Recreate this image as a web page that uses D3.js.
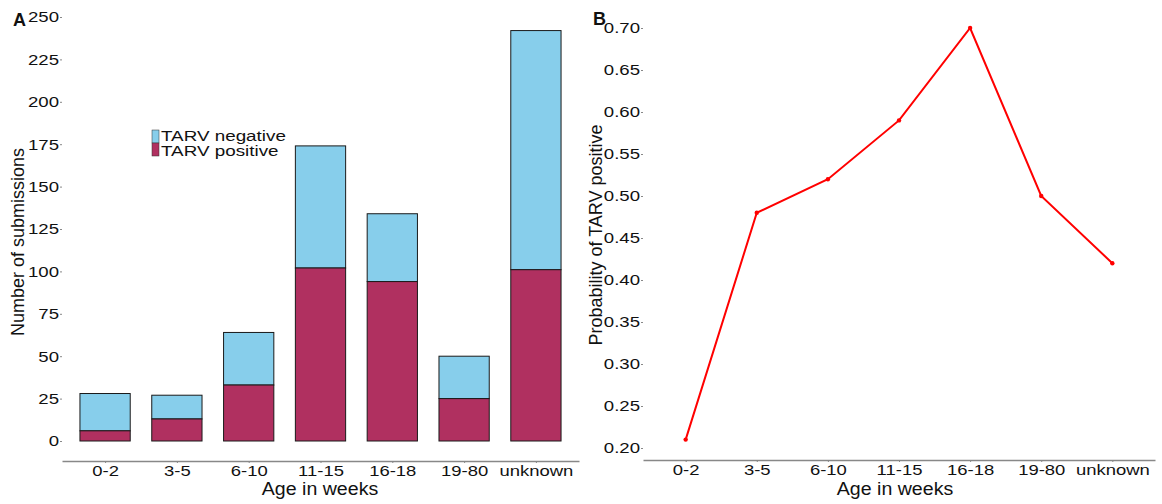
<!DOCTYPE html>
<html><head><meta charset="utf-8">
<script src="https://cdn.jsdelivr.net/npm/d3@7"></script>
<style>body{margin:0;background:#fff}svg{display:block}text{font-family:"Liberation Sans",Arial,sans-serif}</style>
</head><body>
<svg id="c" width="1162" height="504"></svg>
<script>
const categories = ["0-2","3-5","6-10","11-15","16-18","19-80","unknown"];
const totalSubmissions = [28,27,64,174,134,50,242];
const positiveSubmissions = [6,13,33,102,94,25,101];
const probabilityPositive = [0.21,0.48,0.52,0.59,0.70,0.50,0.42];
const countTicks = [0,25,50,75,100,125,150,175,200,225,250];
const probTicks = [0.20,0.25,0.30,0.35,0.40,0.45,0.50,0.55,0.60,0.65,0.70];
const seriesNames = ["TARV negative","TARV positive"];
const colors = {neg:"#87CEEB", pos:"#B03060"};

const svg = d3.select("#c");
const SX = 1.2;
// horizontally stretch a text around its own x anchor
function stretch(sel, s){
  sel.each(function(){
    const t = d3.select(this);
    const x = +t.attr("x") || 0;
    t.attr("transform", `translate(${x},0) scale(${s},1) translate(${-x},0)`);
  });
}

// ---------- Panel A ----------
const xA = d3.scalePoint().domain(categories).range([62,579]).padding(0.6);
const bw = xA.step()*0.7;
const yA = d3.scaleLinear().domain([0,250]).range([441,17]);

const gA = svg.append("g");
categories.forEach((c,i)=>{
  const x0 = xA(c)-bw/2;
  gA.append("rect").attr("x",x0).attr("y",yA(totalSubmissions[i]))
    .attr("width",bw).attr("height",yA(positiveSubmissions[i])-yA(totalSubmissions[i]))
    .attr("fill",colors.neg).attr("stroke","#1a1a1a").attr("stroke-width",1);
  gA.append("rect").attr("x",x0).attr("y",yA(positiveSubmissions[i]))
    .attr("width",bw).attr("height",yA(0)-yA(positiveSubmissions[i]))
    .attr("fill",colors.pos).attr("stroke","#1a1a1a").attr("stroke-width",1);
});

const yAxisA = gA.append("g").attr("transform","translate(62,0)")
  .call(d3.axisLeft(yA).tickValues(countTicks).tickSize(2).tickPadding(1));
yAxisA.select(".domain").remove();
yAxisA.selectAll("line").attr("stroke","#888");
yAxisA.selectAll("text").attr("font-size",15.5).attr("fill","#111").call(stretch,SX);

const xAxisA = gA.append("g").attr("transform","translate(0,461)")
  .call(d3.axisBottom(xA).tickSize(2).tickPadding(2).tickSizeOuter(0));
xAxisA.select(".domain").attr("stroke","#888").attr("stroke-width",1.5);
xAxisA.selectAll("line").attr("stroke","#888");
xAxisA.selectAll("text").attr("font-size",15).attr("fill","#111").call(stretch,1.23);

gA.append("text").attr("x",320).attr("y",495).attr("text-anchor","middle")
  .attr("font-size",17.5).attr("fill","#111").text("Age in weeks").call(stretch,1.12);
gA.append("text").attr("transform","translate(24,242) rotate(-90)").attr("text-anchor","middle")
  .attr("font-size",18).attr("fill","#111").text("Number of submissions");
gA.append("text").attr("x",13).attr("y",26).attr("font-family","Liberation Serif,serif")
  .attr("font-weight","bold").attr("font-size",18).attr("fill","#111").text("A");

// legend
const leg = gA.append("g");
[colors.neg, colors.pos].forEach((col,i)=>{
  leg.append("rect").attr("x",152).attr("y",130+i*13).attr("width",7).attr("height",13)
    .attr("fill",col).attr("stroke","#333").attr("stroke-width",0.5);
  leg.append("text").attr("x",161).attr("y",141.5+i*15).attr("font-size",14.5).attr("fill","#111")
    .text(seriesNames[i]).call(stretch,1.3);
});

// ---------- Panel B ----------
const xB = d3.scalePoint().domain(categories).range([643,1155]).padding(0.6);
const yB = d3.scaleLinear().domain([0.20,0.70]).range([448,28]);
const gB = svg.append("g");

const yAxisB = gB.append("g").attr("transform","translate(643,0)")
  .call(d3.axisLeft(yB).tickValues(probTicks).tickFormat(d3.format(".2f")).tickSize(2).tickPadding(1));
yAxisB.select(".domain").remove();
yAxisB.selectAll("line").attr("stroke","#888");
yAxisB.selectAll("text").attr("font-size",15.5).attr("fill","#111").call(stretch,SX);

const xAxisB = gB.append("g").attr("transform","translate(0,460)")
  .call(d3.axisBottom(xB).tickSize(2).tickPadding(2).tickSizeOuter(0));
xAxisB.select(".domain").attr("stroke","#888").attr("stroke-width",1.5);
xAxisB.selectAll("line").attr("stroke","#888");
xAxisB.selectAll("text").attr("font-size",15).attr("fill","#111").call(stretch,1.23);

const pts = categories.map((c,i)=>[xB(c), yB(probabilityPositive[i])]);
gB.append("path").attr("d",d3.line()(pts)).attr("fill","none")
  .attr("stroke","#FF0000").attr("stroke-width",2);
gB.selectAll("circle.p").data(pts).enter().append("circle")
  .attr("cx",d=>d[0]).attr("cy",d=>d[1]).attr("r",2.2).attr("fill","#FF0000");

gB.append("text").attr("x",895).attr("y",495).attr("text-anchor","middle")
  .attr("font-size",17.5).attr("fill","#111").text("Age in weeks").call(stretch,1.12);
gB.append("text").attr("transform","translate(602,235) rotate(-90)").attr("text-anchor","middle")
  .attr("font-size",18).attr("fill","#111").text("Probability of TARV positive");
gB.append("text").attr("x",593).attr("y",25).attr("font-family","Liberation Serif,serif")
  .attr("font-weight","bold").attr("font-size",18).attr("fill","#111").text("B");
</script>
</body></html>
